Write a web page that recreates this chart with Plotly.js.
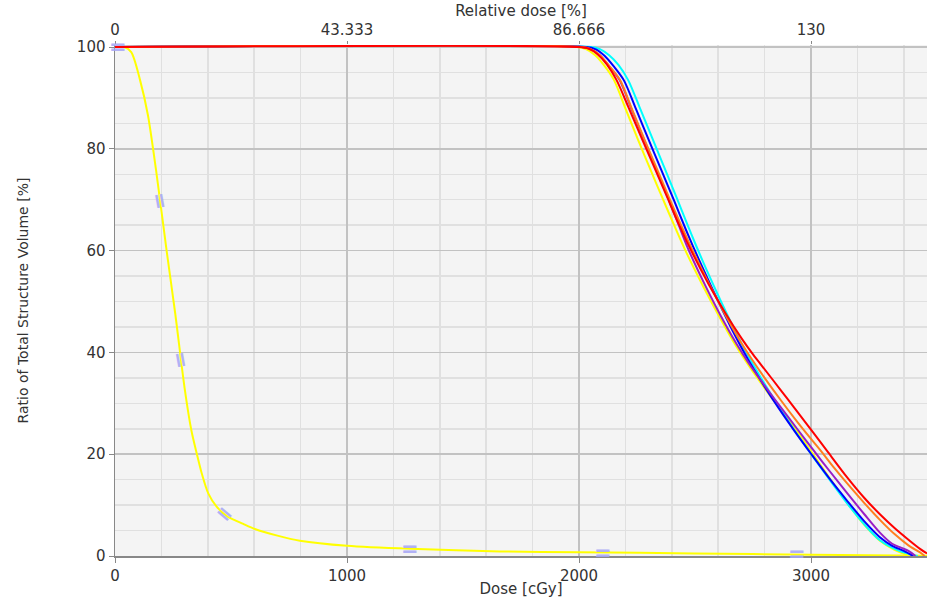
<!DOCTYPE html>
<html>
<head>
<meta charset="utf-8">
<script src="https://cdn.plot.ly/plotly-3.0.1.min.js"></script>
<style>html,body{margin:0;padding:0;background:#fff}#chart{width:927px;height:598px}</style>
</head>
<body>
<div id="chart"></div>
<script>
// ---- data (dose in cGy, volume in %) ----
const yellowSteepX = [0,40,70,108,142,177,223,260,300,330,352,374,402,438,488,553,603,700,797,1000,1272,1660,2000,2500,3000,3500];
const yellowSteepY = [100,100,99,93.5,86.6,75.8,59.8,47.5,33,24.5,20.2,16.2,12.3,9.7,7.7,6.3,5.3,4.0,3.0,2.0,1.4,0.9,0.75,0.5,0.25,0.05];

const yellow2X = [0,1990,2030,2070,2110,2151,2203,2256,2309,2360,2410,2465,2535,2605,2675,2735,2800,2868,2940,3004,3080,3155,3230,3297,3360,3410,3440];
const yellow2Y = [100,100,99.6,98.4,96.3,93.5,87.6,81.6,75.8,70.3,65,59.4,53,47,41.4,37.2,33,28.8,24.5,20.3,15.3,10.5,6.1,3,1.2,0.3,0];

const cyanX = [0,2050,2090,2130,2170,2212,2260,2315,2368,2420,2470,2500,2550,2610,2670,2723,2790,2858,2930,3004,3080,3155,3230,3297,3370,3430,3460];
const cyanY = [100,100,99.6,98.4,96.5,93.5,88.3,82.2,76.3,70.5,64.8,61.5,56.2,50.2,44.5,39.8,34.6,29.6,24.6,19.8,15,10.4,6.2,3.1,1.2,0.3,0];

const blueX = [0,2030,2070,2110,2150,2193,2245,2300,2355,2410,2460,2490,2545,2605,2665,2725,2790,2860,2930,3005,3080,3155,3230,3297,3350,3400,3440];
const blueY = [100,100,99.6,98.3,96.2,93.5,87.9,81.8,75.8,69.8,64.2,61,55.4,49.6,44,38.9,34,29.1,24.5,19.8,15.2,10.9,6.8,3.7,2.0,1.0,0];

const purpleX = [0,2010,2050,2090,2130,2175,2228,2282,2335,2385,2430,2470,2535,2605,2680,2730,2800,2870,2940,3017,3080,3155,3230,3297,3350,3390,3420,3450];
const purpleY = [100,100,99.6,98.4,96.2,93.5,87.6,81.6,75.8,70.2,65,60.4,54,47.7,41.6,38,33.5,29.2,25,20.4,16.7,12.4,8.2,4.6,2.4,1.6,1.0,0];

const orangeX = [0,2010,2050,2090,2130,2177,2230,2285,2340,2390,2440,2485,2555,2620,2690,2740,2800,2870,2940,3000,3040,3100,3155,3230,3297,3360,3420,3470,3490];
const orangeY = [100,100,99.6,98.4,96.3,93.5,87.6,81.5,75.6,70.2,65,60.5,54,48.3,42.6,39,35,30.6,26.4,23,20.8,17.3,14.3,10.4,7.1,4.3,2.1,0.7,0];

const redX = [0,2000,2040,2080,2120,2162,2212,2270,2328,2380,2430,2490,2560,2630,2700,2750,2810,2866,2930,3009,3070,3155,3230,3297,3360,3420,3470,3500];
const redY = [100,100,99.7,98.6,96.6,93.5,88.3,82.1,76,70.5,65.2,59.4,53.3,47.8,42.8,39.6,36.1,32.8,29,24.3,20.6,15.5,11.4,8.2,5.5,3.2,1.4,0.5];

// dose statistic marks on the steep curve
const markX = [15,194,284,474,1272,2104,2940];
const markY = [100,69.7,38.5,8.3,1.4,0.6,0.3];
const markAngle = [0,80,80,40,0,0,0];

// top axis (relative dose)
const relTickVals = [0,43.333,86.666,130];
const relTickText = ['0','43.333','86.666','130'];
const relPerDose = 43.333/1000;
const doseMax = 3500;

// ---- traces ----
function line(x,y,color){
  return {x:x,y:y,type:'scatter',mode:'lines',line:{color:color,width:2,shape:'spline',smoothing:0.8},hoverinfo:'skip',showlegend:false};
}
const traces = [
  line(yellowSteepX,yellowSteepY,'#ffff00'),
  line(yellow2X,yellow2Y,'#ffff00'),
  line(cyanX,cyanY,'#00ffff'),
  line(blueX,blueY,'#0000ff'),
  line(purpleX,purpleY,'#9a1fc4'),
  line(orangeX,orangeY,'#ff7f1e'),
  line(redX,redY,'#ff0000'),
  {x:[0,doseMax*relPerDose],y:[null,null],xaxis:'x2',type:'scatter',mode:'markers',marker:{opacity:0},hoverinfo:'skip',showlegend:false}
];

const annotations = markX.map((x,i)=>({
  x:x,y:markY[i],xref:'x',yref:'y',text:'<b>=</b>',showarrow:false,textangle:markAngle[i],
  font:{family:'DejaVu Sans',size:21,color:'#a6a6f6'},opacity:0.85,xanchor:'center',yanchor:'middle'
}));

const FAM = 'DejaVu Sans, Open Sans, sans-serif';
const tickFont = {family:FAM,size:15,color:'#333'};
const layout = {
  width:927,height:598,
  margin:{l:115,r:0,t:45,b:42,pad:0},
  paper_bgcolor:'#ffffff',plot_bgcolor:'#f4f4f4',
  showlegend:false,
  font:tickFont,
  xaxis:{
    range:[0,doseMax],tick0:0,dtick:1000,
    showgrid:true,gridcolor:'#c2c2c2',gridwidth:1.5,
    minor:{dtick:200,showgrid:true,gridcolor:'#e0e0e0',gridwidth:1.5,ticks:''},
    ticks:'outside',ticklen:5,tickcolor:'#888',tickwidth:1,
    showline:true,linecolor:'#888',linewidth:1.5,zeroline:false,
    layer:'below traces',
    tickfont:tickFont,
    title:{text:'Dose [cGy]',font:tickFont,standoff:0}
  },
  xaxis2:{
    overlaying:'x',side:'top',anchor:'y',
    range:[0,doseMax*relPerDose],
    tickmode:'array',tickvals:relTickVals,ticktext:relTickText,
    showgrid:false,zeroline:false,
    ticks:'outside',ticklen:3,tickcolor:'#888',
    showline:false,
    tickfont:tickFont,
    title:{text:'Relative dose [%]',font:tickFont,standoff:0}
  },
  yaxis:{
    range:[0,100.4],tick0:0,dtick:20,
    showgrid:true,gridcolor:'#c2c2c2',gridwidth:1.5,
    minor:{dtick:5,showgrid:true,gridcolor:'#e0e0e0',gridwidth:1.5,ticks:''},
    ticks:'outside',ticklen:5,tickcolor:'#888',
    showline:true,linecolor:'#888',linewidth:1.5,zeroline:false,
    layer:'below traces',
    tickfont:tickFont,
    title:{text:'Ratio of Total Structure Volume [%]',font:{family:FAM,size:14,color:'#333'},standoff:45}
  },
  annotations:annotations
};
Plotly.newPlot('chart',traces,layout,{displayModeBar:false,staticPlot:true});
</script>
</body>
</html>
